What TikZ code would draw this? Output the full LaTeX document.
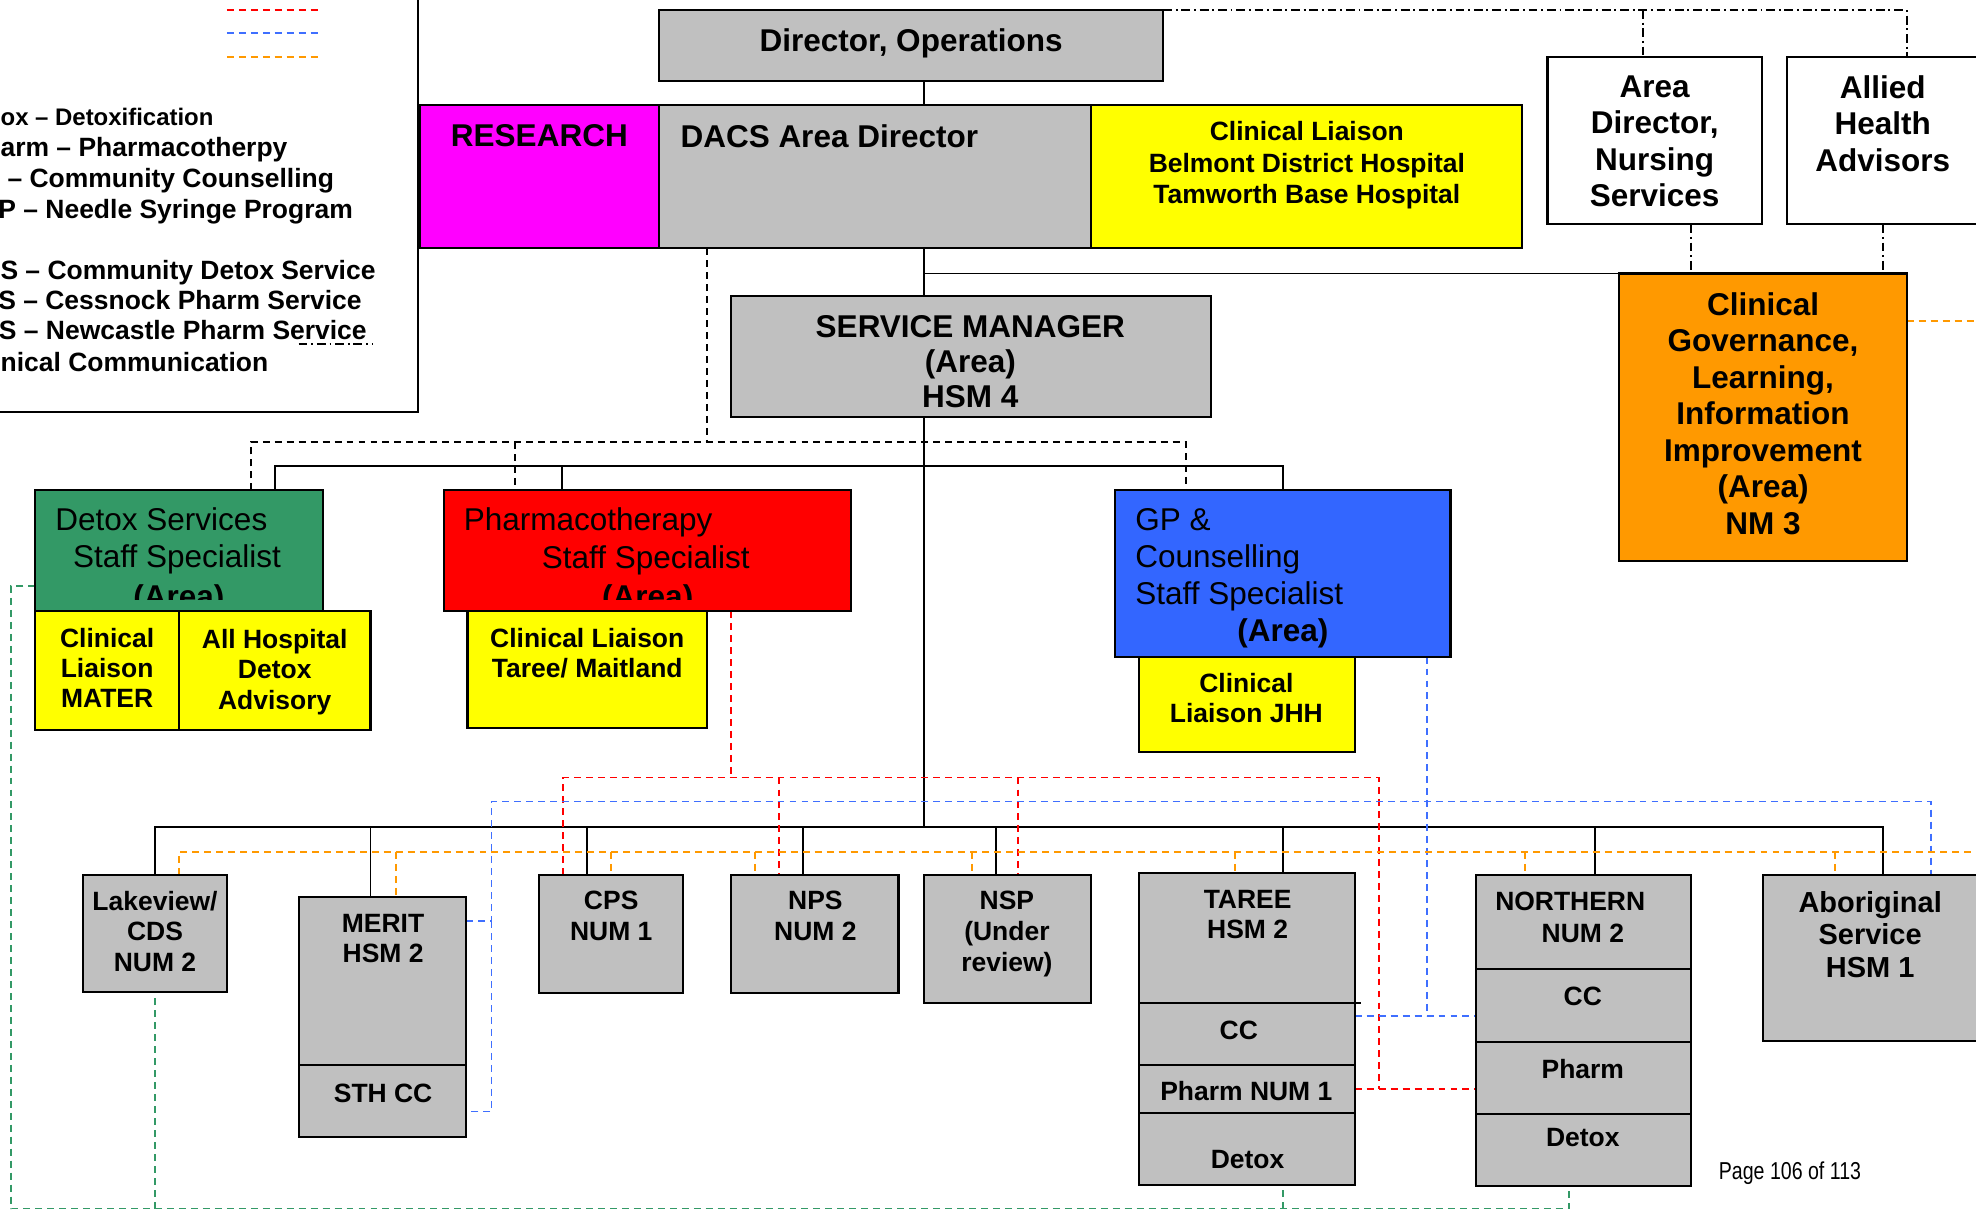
\documentclass[tikz,border=0pt]{standalone}
\usepackage{fontspec}
\setmainfont{Liberation Sans}
\newfontfamily\narrowfont{Liberation Sans}[FakeStretch=0.8]
\definecolor{gbox}{HTML}{C0C0C0}
\definecolor{magbox}{HTML}{FF00FF}
\definecolor{yelbox}{HTML}{FFFF00}
\definecolor{orgbox}{HTML}{FF9900}
\definecolor{grnbox}{HTML}{339966}
\definecolor{redbox}{HTML}{FF0000}
\definecolor{blubox}{HTML}{3366FF}
\definecolor{bluline}{HTML}{3F6FFF}
\newcommand\szb[2]{\fontsize{#1}{#2}\selectfont\bfseries}
\newcommand\szr[2]{\fontsize{#1}{#2}\selectfont}
\tikzset{
  bx/.style={draw=black, line width=1.7pt, inner sep=0pt, outer sep=0pt, anchor=north west},
  tx/.style={inner sep=0pt, outer sep=0pt, align=center},
  conn/.style={draw=black, line width=1.5pt},
  kdash/.style={draw=black, line width=1.5pt, dash pattern=on 5.5pt off 4pt},
  ddot/.style={draw=black, line width=1.4pt, dash pattern=on 7pt off 3pt on 1.5pt off 3pt},
  rdash/.style={draw=redbox, line width=1.5pt, dash pattern=on 5.5pt off 4pt},
  udash/.style={draw=bluline, line width=1.5pt, dash pattern=on 5.5pt off 4pt},
  odash/.style={draw=orgbox, line width=1.5pt, dash pattern=on 5.5pt off 4pt},
  gdash/.style={draw=grnbox, line width=1.5pt, dash pattern=on 5.5pt off 4pt},
}
\begin{document}
\begin{tikzpicture}[x=1pt,y=-1pt]
\path[use as bounding box] (0,0) rectangle (1568,960);
\clip (0,0) rectangle (1568,960);
\fill[white] (0,0) rectangle (1568,960);

% ---------- legend ----------
\node[bx, fill=white, minimum width=340pt, minimum height=335pt] (legend) at (-8,-8) {};
\draw[rdash] (180,8) -- (252,8);
\draw[udash] (180,26) -- (252,26);
\draw[odash] (180,45) -- (252,45);
\draw[ddot, line width=1pt] (237,273) -- (296,273);
\node[tx, anchor=base west, font=\szb{19}{24}] (lg1) at (0.5,99.8) {ox – Detoxification};
\node[tx, anchor=base west, font=\szb{21}{24}] (lg2) at (0.5,124.5) {arm – Pharmacotherpy};
\node[tx, anchor=base east, font=\szb{21}{24}] (lg3) at (265,148.5) {– Community Counselling};
\node[tx, anchor=base east, font=\szb{21}{24}] (lg4) at (280,173.5) {P – Needle Syringe Program};
\node[tx, anchor=base east, font=\szb{21}{24}] (lg5) at (298,221.5) {S – Community Detox Service};
\node[tx, anchor=base east, font=\szb{21}{24}] (lg6) at (287,245.5) {S – Cessnock Pharm Service};
\node[tx, anchor=base east, font=\szb{21}{24}] (lg7) at (291,269.5) {S – Newcastle Pharm Service};
\node[tx, anchor=base west, font=\szb{21}{24}] (lg8) at (0.5,294.5) {nical Communication};

% ---------- boxes (geometry only, for anchors) ----------
\path node[bx, draw=none, minimum width=400pt, minimum height=56pt] (dir) at (523,8) {}
      node[bx, draw=none, minimum width=190pt, minimum height=114pt] (research) at (333,83) {}
      node[bx, draw=none, minimum width=343pt, minimum height=114pt] (dacs) at (523,83) {}
      node[bx, draw=none, minimum width=342pt, minimum height=114pt] (belmont) at (866,83) {}
      node[bx, draw=none, minimum width=170pt, minimum height=133pt] (nursing) at (1228,45) {}
      node[bx, draw=none, minimum width=170pt, minimum height=133pt] (allied) at (1418,45) {}
      node[bx, draw=none, minimum width=228pt, minimum height=228pt] (cg) at (1285,217) {}
      node[bx, draw=none, minimum width=381pt, minimum height=96pt] (sm) at (580,235) {}
      node[bx, draw=none, minimum width=228pt, minimum height=96pt] (detox) at (28,389) {}
      node[bx, draw=none, minimum width=323pt, minimum height=96pt] (pharma) at (352,389) {}
      node[bx, draw=none, minimum width=266pt, minimum height=132pt] (gp) at (885,389) {}
      node[bx, draw=none, minimum width=114pt, minimum height=93pt] (lake) at (66,694) {}
      node[bx, draw=none, minimum width=133pt, minimum height=133pt] (merit) at (237,712) {}
      node[bx, draw=none, minimum width=133pt, minimum height=57pt] (sthcc) at (237,845) {}
      node[bx, draw=none, minimum width=114pt, minimum height=94pt] (cps) at (428,694) {}
      node[bx, draw=none, minimum width=133pt, minimum height=94pt] (nps) at (580,694) {}
      node[bx, draw=none, minimum width=133pt, minimum height=102pt] (nsp) at (733,694) {}
      node[bx, draw=none, minimum width=171pt, minimum height=103pt] (tareetop) at (904,693) {}
      node[bx, draw=none, minimum width=171pt, minimum height=49pt] (tareecc) at (904,796) {}
      node[bx, draw=none, minimum width=171pt, minimum height=38pt] (tareeph) at (904,845) {}
      node[bx, draw=none, minimum width=171pt, minimum height=57pt] (tareedx) at (904,883) {}
      node[bx, draw=none, minimum width=171pt, minimum height=75pt] (northtop) at (1171,694) {}
      node[bx, draw=none, minimum width=171pt, minimum height=58pt] (northcc) at (1171,769) {}
      node[bx, draw=none, minimum width=171pt, minimum height=57pt] (northph) at (1171,827) {}
      node[bx, draw=none, minimum width=171pt, minimum height=57pt] (northdx) at (1171,884) {}
      node[bx, draw=none, minimum width=180pt, minimum height=132pt] (abor) at (1399,694) {};

% ---------- connector coordinates ----------
\coordinate (tr) at (733,0);
\coordinate (m1) at (218,370); \coordinate (m2) at (446,370); \coordinate (m3) at (1018,370);
\coordinate (b1) at (123,656); \coordinate (b2) at (294,656); \coordinate (b3) at (466,656);
\coordinate (b4) at (637,656); \coordinate (b5) at (790,656); \coordinate (b6) at (1018,656);
\coordinate (b7) at (1266,656); \coordinate (b8) at (1494,656);
\coordinate (dd) at (1513,8); \coordinate (dn) at (1304,8);
\coordinate (dn2) at (1342,0); \coordinate (da2) at (1494,0);
\coordinate (k0) at (561,351); \coordinate (k1) at (199,351); \coordinate (k2) at (409,351); \coordinate (k3) at (941,351);
\coordinate (r0) at (580,617); \coordinate (r1) at (447,617); \coordinate (r2) at (618,617);
\coordinate (r3) at (808,617); \coordinate (r4) at (1094,617); \coordinate (r5) at (1094,864);
\coordinate (u0) at (1132,806); \coordinate (u1) at (390,636); \coordinate (u2) at (1532,636);
\coordinate (u3) at (390,882); \coordinate (u4) at (390,731);
\coordinate (o0) at (1580,255);
\coordinate (o1) at (142,676); \coordinate (o2) at (314,676); \coordinate (o3) at (485,676);
\coordinate (o4) at (599,676); \coordinate (o5) at (771,676); \coordinate (o6) at (980,676);
\coordinate (o7) at (1210,676); \coordinate (o8) at (1456,676); \coordinate (oe) at (1580,676);
\coordinate (g0) at (9,465); \coordinate (g1) at (9,959); \coordinate (g2) at (123,959);
\coordinate (g3) at (1018,959); \coordinate (g4) at (1245,959);

% ---------- solid connectors ----------
\draw[conn] (tr |- dir.south) -- (tr |- dacs.north);
\draw[conn] (tr |- dacs.south) -- (tr |- sm.north);
\draw[conn] (tr |- cg.north) -- (cg.north west);
\draw[conn] (tr |- sm.south) -- (tr |- b1);
\draw[conn] (m1 |- detox.north) -- (m1) -- (m3) -- (m3 |- gp.north);
\draw[conn] (m2) -- (m2 |- pharma.north);
\draw[conn] (b1 |- lake.north) -- (b1) -- (b8) -- (b8 |- abor.north);
\draw[conn] (b2) -- (b2 |- merit.north);
\draw[conn] (b3) -- (b3 |- cps.north);
\draw[conn] (b4) -- (b4 |- nps.north);
\draw[conn] (b5) -- (b5 |- nsp.north);
\draw[conn] (b6) -- (b6 |- tareetop.north);
\draw[conn] (b7) -- (b7 |- northtop.north);

% ---------- dash-dot ----------
\draw[ddot] (dir.north east) -- (dd) -- (dd |- allied.north);
\draw[ddot] (dn) -- (dn |- nursing.north);
\draw[ddot] (dn2 |- nursing.south) -- (dn2 |- cg.north);
\draw[ddot] (da2 |- allied.south) -- (da2 |- cg.north);

% ---------- black dashed ----------
\draw[kdash] (k0 |- dacs.south) -- (k0);
\draw[kdash] (k1 |- detox.north) -- (k1) -- (k3) -- (k3 |- gp.north);
\draw[kdash] (k2) -- (k2 |- pharma.north);

% ---------- red dashed ----------
\draw[rdash] (r0 |- pharma.south) -- (r0);
\draw[rdash] (r1 |- cps.north) -- (r1) -- (r4) -- (r5);
\draw[rdash] (r2) -- (r2 |- nps.north);
\draw[rdash] (r3) -- (r3 |- nsp.north);
\draw[rdash] (tareeph.east) -- (tareeph.east -| northph.west);

% ---------- blue dashed ----------
\draw[udash] (u0 |- gp.south) -- (u0);
\draw[udash] (tareecc.east |- u0) -- (northcc.west |- u0);
\draw[udash] (merit.east |- u4) -- (u4) -- (u1) -- (u2) -- (u2 |- abor.north);
\draw[udash] (u4) -- (u3) -- (sthcc.east |- u3);

% ---------- orange dashed ----------
\draw[odash] (cg.east |- o0) -- (o0);
\draw[odash] (o1 |- lake.north) -- (o1) -- (oe);
\draw[odash] (o2) -- (o2 |- merit.north);
\draw[odash] (o3) -- (o3 |- cps.north);
\draw[odash] (o4) -- (o4 |- nps.north);
\draw[odash] (o5) -- (o5 |- nsp.north);
\draw[odash] (o6) -- (o6 |- tareetop.north);
\draw[odash] (o7) -- (o7 |- northtop.north);
\draw[odash] (o8) -- (o8 |- abor.north);

% ---------- green dashed ----------
\draw[gdash] (detox.west |- g0) -- (g0) -- (g1) -- (g4) -- (g4 |- northdx.south);
\draw[gdash] (g2) -- (g2 |- lake.south);
\draw[gdash] (g3) -- (g3 |- tareedx.south);

% ---------- visible boxes ----------
\path[bx, fill=gbox] (dir.north west) rectangle (dir.south east);
\path[bx, fill=magbox] (research.north west) rectangle (research.south east);
\path[bx, fill=gbox] (dacs.north west) rectangle (dacs.south east);
\path[bx, fill=yelbox] (belmont.north west) rectangle (belmont.south east);
\path[bx, fill=white] (nursing.north west) rectangle (nursing.south east);
\path[bx, fill=white] (allied.north west) rectangle (allied.south east);
\path[bx, fill=orgbox] (cg.north west) rectangle (cg.south east);
\path[bx, fill=gbox] (sm.north west) rectangle (sm.south east);
\path[bx, fill=grnbox] (detox.north west) rectangle (detox.south east);
\path[bx, fill=redbox] (pharma.north west) rectangle (pharma.south east);
\path[bx, fill=blubox] (gp.north west) rectangle (gp.south east);
\foreach \b in {lake,merit,sthcc,cps,nps,nsp,tareetop,tareecc,tareeph,tareedx,northtop,northcc,northph,northdx,abor}
  {\path[bx, fill=gbox] (\b.north west) rectangle (\b.south east);}
\draw[line width=1.7pt] (tareecc.north east) -- ++(5,0);

% yellow boxes
\node[bx, fill=yelbox, minimum width=114pt, minimum height=94pt] (mater) at (28,485) {};
\node[bx, fill=yelbox, minimum width=152pt, minimum height=94pt] (allhosp) at (142,485) {};
\node[bx, fill=yelbox, minimum width=190pt, minimum height=93pt] (tareecl) at (371,485) {};
\node[bx, fill=yelbox, minimum width=171pt, minimum height=76pt] (jhh) at (904,521) {};

% ---------- texts ----------
\node[tx, anchor=base, font=\szb{25}{29}] (t-dir) at (723,41) {Director, Operations};
\node[tx, anchor=base, font=\szb{25}{29}] (t-res) at (428,116) {RESEARCH};
\node[tx, anchor=base west, font=\szb{25}{29}] (t-dacs) at (540,117) {DACS Area Director};
\node[tx, anchor=north, font=\szb{21}{25}] (t-bel) at (1037,96.4) {Clinical Liaison\\Belmont District Hospital\\Tamworth Base Hospital};
\node[tx, anchor=north, font=\szb{25}{29}] (t-nur) at (1313,60) {Area\\Director,\\Nursing\\Services};
\node[tx, anchor=north, font=\szb{25}{29}] (t-all) at (1494,60) {Allied\\Health\\Advisors};
\node[tx, anchor=north, font=\szb{25}{29}] (t-cg) at (1399,232) {Clinical\\Governance,\\Learning,\\Information\\Improvement\\(Area)\\NM 3};
\node[tx, anchor=north, font=\szb{25}{28}] (t-sm) at (770,250) {SERVICE MANAGER\\(Area)\\HSM 4};

\node[tx, anchor=base west, font=\szr{25}{29}] (t-dx1) at (44,421) {Detox Services};
\node[tx, anchor=base west, font=\szr{25}{29}] (t-dx2) at (58,450) {Staff Specialist};
\begin{scope}
\clip (28,389) rectangle (256,476);
\node[tx, anchor=base, font=\szb{25}{29}] (t-dx3) at (142,482) {(Area)};
\end{scope}
\node[tx, anchor=base west, font=\szr{25}{29}] (t-ph1) at (368,421) {Pharmacotherapy};
\node[tx, anchor=base west, font=\szr{25}{29}] (t-ph2) at (430,451) {Staff Specialist};
\begin{scope}
\clip (352,389) rectangle (675,476);
\node[tx, anchor=base, font=\szb{25}{29}] (t-ph3) at (514,482) {(Area)};
\end{scope}
\node[tx, anchor=base west, font=\szr{25}{29}] (t-gp1) at (901,421) {GP \&};
\node[tx, anchor=base west, font=\szr{25}{29}] (t-gp2) at (901,450) {Counselling};
\node[tx, anchor=base west, font=\szr{25}{29}] (t-gp3) at (901,480) {Staff Specialist};
\node[tx, anchor=base, font=\szb{25}{29}] (t-gp4) at (1018,509) {(Area)};

\node[tx, anchor=north, font=\szb{21}{24}] (t-mat) at (85,498.4) {Clinical\\Liaison\\MATER};
\node[tx, anchor=north, font=\szb{21}{24}] (t-ahd) at (218,499.4) {All Hospital\\Detox\\Advisory};
\node[tx, anchor=north, font=\szb{21}{24}] (t-tcl) at (466,498.4) {Clinical Liaison\\Taree/ Maitland};
\node[tx, anchor=north, font=\szb{21}{24}] (t-jhh) at (989,534.4) {Clinical\\Liaison JHH};

\node[tx, anchor=north, font=\szb{21}{24}] (t-lak) at (123,707.4) {Lakeview/\\CDS\\NUM 2};
\node[tx, anchor=north, font=\szb{21}{24}] (t-mer) at (304,725.4) {MERIT\\HSM 2};
\node[tx, anchor=base, font=\szb{21}{24}] (t-sth) at (304,874.5) {STH CC};
\node[tx, anchor=north, font=\szb{21}{24.5}] (t-cps) at (485,707.4) {CPS\\NUM 1};
\node[tx, anchor=north, font=\szb{21}{24.5}] (t-nps) at (647,707.4) {NPS\\NUM 2};
\node[tx, anchor=north, font=\szb{21}{24.5}] (t-nsp) at (799,707.4) {NSP\\(Under\\review)};
\node[tx, anchor=north, font=\szb{21}{24}] (t-tar) at (990,706.4) {TAREE\\HSM 2};
\node[tx, anchor=base, font=\szb{21}{24}] (t-tcc) at (983,824.5) {CC};
\node[tx, anchor=base, font=\szb{21}{24}] (t-tph) at (989,873.5) {Pharm NUM 1};
\node[tx, anchor=base, font=\szb{21}{24}] (t-tdx) at (990,927.5) {Detox};
\node[tx, anchor=base, font=\szb{21}{24}] (t-no1) at (1246,722.5) {NORTHERN};
\node[tx, anchor=base, font=\szb{21}{24}] (t-no2) at (1256,747.5) {NUM 2};
\node[tx, anchor=base, font=\szb{21}{24}] (t-ncc) at (1256,797.5) {CC};
\node[tx, anchor=base, font=\szb{21}{24}] (t-nph) at (1256,855.5) {Pharm};
\node[tx, anchor=base, font=\szb{21}{24}] (t-ndx) at (1256,909.5) {Detox};
\node[tx, anchor=north, font=\szb{23}{25.5}] (t-abo) at (1484,707.7) {Aboriginal\\Service\\HSM 1};

\node[tx, anchor=base west, font=\narrowfont\fontsize{19.4}{22}\selectfont] (page) at (1364,936) {Page 106 of 113};
\end{tikzpicture}
\end{document}
